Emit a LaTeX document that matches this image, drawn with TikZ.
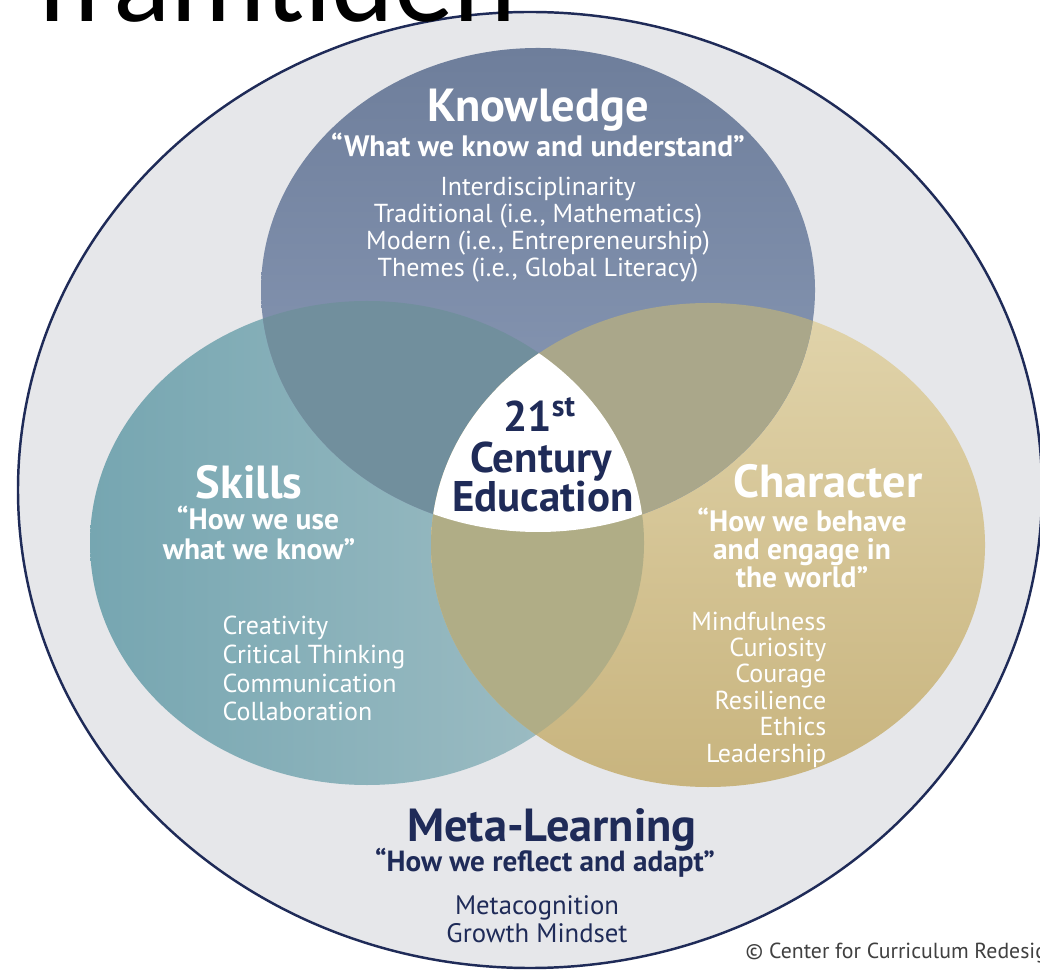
\documentclass[tikz,border=0pt]{standalone}
\usepackage{fontspec}
\setmainfont{PT Sans}
\newfontfamily\headfont{Carlito}
\usetikzlibrary{positioning}
\definecolor{navy}{RGB}{31,43,88}
\definecolor{rimgrey}{RGB}{230,231,234}
\definecolor{knowtop}{RGB}{110,126,155}
\definecolor{knowbot}{RGB}{141,157,185}
\definecolor{skillleft}{RGB}{118,166,177}
\definecolor{skillright}{RGB}{163,192,198}
\definecolor{chartop}{RGB}{225,212,171}
\definecolor{charbot}{RGB}{200,180,126}
\definecolor{ksmix}{RGB}{113,143,157}
\definecolor{kcmix}{RGB}{170,167,138}
\definecolor{scmix}{RGB}{176,173,134}

\begin{document}
\begin{tikzpicture}
  \tikzset{
    venn/.style={x radius=2.77,y radius=2.42},
    head/.style={font=\fontsize{13.2}{15}\selectfont\bfseries,text=white,inner sep=0pt,anchor=base},
    quote/.style={font=\fontsize{8.4}{9}\selectfont\bfseries,text=white,inner sep=0pt,anchor=base},
    item/.style={font=\fontsize{7.4}{8}\selectfont,text=white,inner sep=0pt,anchor=base},
    core/.style={font=\fontsize{12.2}{13}\selectfont\bfseries,text=navy,inner sep=0pt,anchor=base},
  }
  %BACKGROUND
  \useasboundingbox (0,0) rectangle (10.4,9.7);
  \fill[white] (0,0) rectangle (10.4,9.7);
  %OUTER RING
  \coordinate (oc) at (5.30,4.80);
  \filldraw[fill=rimgrey,draw=navy,line width=0.7pt] (oc) ellipse [x radius=5.12,y radius=4.78];
  %CENTERS
  \coordinate (kc) at (5.38,6.80);
  \coordinate (sc) at (3.67,4.27);
  \coordinate (cc) at (7.08,4.25);
  %CIRCLES
  \shade[left color=skillleft,right color=skillright] (sc) ellipse [venn];
  \shade[top color=chartop,bottom color=charbot] (cc) ellipse [venn];
  \shade[top color=knowtop,bottom color=knowbot] (kc) ellipse [venn];
  %OVERLAPS
  \begin{scope}
    \clip (kc) ellipse [venn];
    \fill[ksmix] (sc) ellipse [venn];
    \fill[kcmix] (cc) ellipse [venn];
  \end{scope}
  \begin{scope}
    \clip (sc) ellipse [venn];
    \fill[scmix] (cc) ellipse [venn];
  \end{scope}
  %CENTER
  \begin{scope}
    \clip (kc) ellipse [venn];
    \clip (sc) ellipse [venn];
    \fill[white] (cc) ellipse [venn];
  \end{scope}

  %KNOWLEDGE
  \node[head] (know) at (5.38,8.48) {Knowledge};
  \node[quote] (knowq) at (5.38,8.13) {“What we know and understand”};
  \foreach \t [count=\i] in {Interdisciplinarity,{Traditional (i.e., Mathematics)},{Modern (i.e., Entrepreneurship)},{Themes (i.e., Global Literacy)}}{
    \node[item] (K\i) at (5.38,{8.01-0.27*\i}) {\t};
  }
  %CORE
  \node[core] (c1) at (5.40,5.38) {21\textsuperscript{st}};
  \node[core] (c2) at (5.41,4.97) {Century};
  \node[core] (c3) at (5.43,4.58) {Education};
  %SKILLS
  \node[head] (skill) at (2.49,4.71) {Skills};
  \node[quote] (skillq1) at (2.58,4.40) {“How we use};
  \node[quote] (skillq2) at (2.59,4.11) {what we know”};
  \foreach \t [count=\i] in {Creativity,Critical Thinking,Communication,Collaboration}{
    \node[item,anchor=base west] (S\i) at (2.22,{3.635-0.285*\i}) {\t};
  }
  %CHARACTER
  \node[head] (char) at (8.28,4.72) {Character};
  \foreach \t [count=\i] in {“How we behave,and engage in,the world”}{
    \node[quote] (charq\i) at (8.02,{4.66-0.28*\i}) {\t};
  }
  \foreach \t [count=\i] in {Mindfulness,Curiosity,Courage,Resilience,Ethics,Leadership}{
    \node[item,anchor=base east] (C\i) at (8.27,{3.664-0.264*\i}) {\t};
  }
  %META LEARNING
  \node[head,text=navy] (meta) at (5.52,1.29) {Meta-Learning};
  \node[quote,text=navy,font=\fontsize{8.3}{9}\selectfont\bfseries] (metaq) at (5.45,0.99) {“How we reflect and adapt”};
  \node[item,text=navy,font=\fontsize{7.6}{8}\selectfont] (M1) at (5.37,0.56) {Metacognition};
  \node[item,text=navy,font=\fontsize{7.6}{8}\selectfont] (M2) at (5.37,0.28) {Growth Mindset};
  %COPYRIGHT
  \node[font=\fontsize{6.2}{7}\selectfont,text=black!75,inner sep=0pt,anchor=base west] (copy) at (7.45,0.12) {© Center for Curriculum Redesign};
  %TITLE
  \node[font=\headfont\fontsize{34}{40}\selectfont,inner sep=0pt,anchor=base west] (ttl) at (0.37,9.48) {framtiden};
\end{tikzpicture}
\end{document}
